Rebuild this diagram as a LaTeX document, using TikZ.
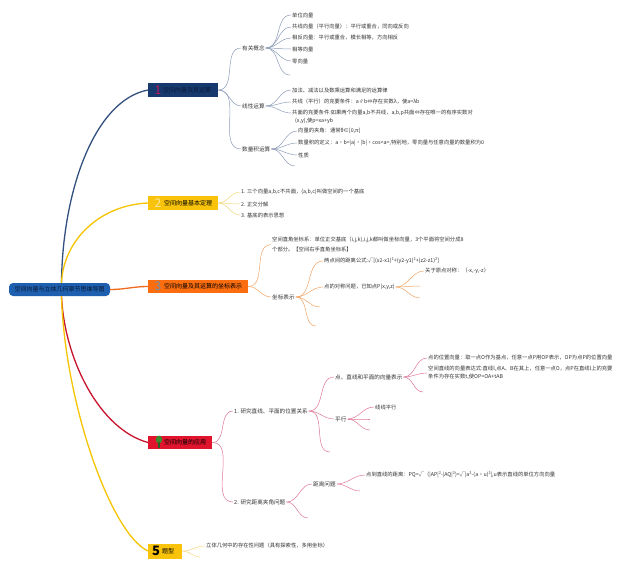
\documentclass[tikz,border=0pt]{standalone}
\usepackage{fontspec}
\setmainfont{Noto Sans CJK SC}
\definecolor{rootblue}{HTML}{1E5FAF}
\definecolor{roottext}{HTML}{0B1A33}
\definecolor{navy}{HTML}{173A6E}
\definecolor{navytext}{HTML}{0C1B3A}
\definecolor{navyline}{HTML}{34507E}
\definecolor{navysub}{HTML}{8D9CB8}
\definecolor{magnum}{HTML}{C2185B}
\definecolor{yel}{HTML}{F8C30A}
\definecolor{yelline}{HTML}{F6C400}
\definecolor{yelsub}{HTML}{F3D77A}
\definecolor{yelnum}{HTML}{FCE7A0}
\definecolor{org}{HTML}{FB6D0F}
\definecolor{orgline}{HTML}{F06A1E}
\definecolor{orgsub}{HTML}{F2A567}
\definecolor{orgnum}{HTML}{6F8FAE}
\definecolor{redb}{HTML}{E0142D}
\definecolor{redline}{HTML}{C8142E}
\definecolor{redsub}{HTML}{E07896}
\definecolor{treegreen}{HTML}{3C8A2E}
\definecolor{txt}{HTML}{333333}
\begin{document}
\begin{tikzpicture}[x=1pt,y=-1pt,
  leaf/.style={anchor=west,inner sep=1pt,text=txt,font=\fontsize{5.3}{8}\selectfont,align=left},
  mid/.style={leaf,font=\fontsize{5.6}{8}\selectfont},
  bbox/.style={anchor=west,minimum height=14pt,inner sep=0pt},
  btext/.style={anchor=west,inner sep=0pt,font=\fontsize{6}{6}\selectfont},
  num/.style={inner sep=0pt,font=\fontsize{12}{12}\selectfont},
  mainline/.style={line width=1.3pt},
  subnavy/.style={line width=0.5pt,draw=navysub},
  subyel/.style={line width=0.5pt,draw=yelsub},
  suborg/.style={line width=0.5pt,draw=orgsub},
  subred/.style={line width=0.5pt,draw=redsub}]
\useasboundingbox (0,0) rectangle (640,576);
\fill[white] (0,0) rectangle (640,576);

% root
\node[fill=rootblue,rounded corners=4pt,minimum width=101pt,minimum height=13pt,inner sep=0pt,
      font=\fontsize{6}{6}\selectfont,text=roottext] (root) at (59.5,289.5) {空间向量与立体几何章节思维导图};

% branch boxes
\node[bbox,fill=navy,minimum width=70pt] (b1) at (148,90) {};
\node[num,text=magnum] (b1n) at ([xshift=10]b1.west) {1};
\node[btext,text=navytext] (b1t) at ([xshift=15]b1.west) {空间向量及其运算};

\node[bbox,fill=yel,minimum width=70pt] (b2) at (148,203) {};
\node[num,text=yelnum] (b2n) at ([xshift=10]b2.west) {2};
\node[btext,text=black] (b2t) at ([xshift=16]b2.west) {空间向量基本定理};

\node[bbox,fill=org,minimum width=100pt,minimum height=13.5pt] (b3) at (148,286.5) {};
\node[num,text=orgnum] (b3n) at ([xshift=10]b3.west) {3};
\node[btext,text=black] (b3t) at ([xshift=16]b3.west) {空间向量及其运算的坐标表示};

\node[bbox,fill=redb,minimum width=64pt,minimum height=13.5pt] (b4) at (148,442.5) {};
\fill[treegreen] (159,439.5) ellipse (3.2 and 4);
\fill[treegreen!70!black] (158.4,442) rectangle (159.6,447.5);
\node[btext,text=black] (b4t) at ([xshift=16]b4.west) {空间向量的应用};

\node[bbox,fill=yel,minimum width=34pt,minimum height=15pt] (b5) at (148,551) {};
\node[num,text=black,font=\fontsize{13}{13}\selectfont\bfseries] (b5n) at ([xshift=8]b5.west) {5};
\node[btext,text=black] (b5t) at ([xshift=14]b5.west) {题型};

% main connectors
\draw[mainline,navyline] ([xshift=2]root.north) .. controls +(1,-93) and +(-53,10) .. (b1.west);
\draw[mainline,yelline] ([xshift=2]root.north) .. controls +(2,-43) and +(-48,2) .. (b2.west);
\draw[mainline,orgline] (root.east) to[out=0,in=180] (b3.west);
\draw[mainline,redline] ([xshift=2]root.south) .. controls +(3,64) and +(-48,-13) .. (b4.west);
\draw[mainline,yelline] ([xshift=2]root.south) .. controls +(3,104) and +(-38,-18) .. (b5.west);

% ---------- branch 1
\node[mid] (p11) at (241,48) {有关概念};
\node[mid] (p12) at (241,106) {线性运算};
\node[mid] (p13) at (241,149) {数量积运算};
\draw[subnavy] (b1.east) to[out=0,in=180] (p11.west);
\draw[subnavy] (b1.east) to[out=0,in=180] (p12.west);
\draw[subnavy] (b1.east) to[out=0,in=180] (p13.west);

\node[leaf] (q111) at (291,15) {单位向量};
\node[leaf] (q112) at (291,27) {共线向量（平行向量）：平行或重合，同向或反向};
\node[leaf] (q113) at (291,38) {相反向量：平行或重合，模长相等，方向相反};
\node[leaf] (q114) at (291,49) {相等向量};
\node[leaf] (q115) at (291,61) {零向量};
\coordinate (q116) at (290,75);
\draw[subnavy] (p11.east) to[out=0,in=180] (q111.west);
\draw[subnavy] (p11.east) to[out=0,in=180] (q112.west);
\draw[subnavy] (p11.east) to[out=0,in=180] (q113.west);
\draw[subnavy] (p11.east) to[out=0,in=180] (q114.west);
\draw[subnavy] (p11.east) to[out=0,in=180] (q115.west);
\draw[subnavy] (p11.east) to[out=0,in=180] (q116);

\node[leaf] (q121) at (291,90) {加法、减法以及数乘运算和满足的运算律};
\node[leaf] (q122) at (291,102) {共线（平行）的充要条件：a∥b⇔存在实数λ，使a=λb};
\node[leaf,anchor=north west] (q123) at (291,108.5) {共面的充要条件:如果两个向量a,b不共线，a,b,p共面⇔存在唯一的有序实数对\\\hspace{3pt}(x,y),使p=xa+yb};
\draw[subnavy] (p12.east) to[out=0,in=180] (q121.west);
\draw[subnavy] (p12.east) to[out=0,in=180] (q122.west);
\draw[subnavy] (p12.east) to[out=0,in=180] ([yshift=-4.5]q123.north west);

\node[leaf] (q131) at (297,131) {向量的夹角：通常θ∈[0,π]};
\node[leaf] (q132) at (297,143) {数量积的定义：a·b=|a|·|b|·cos<a>,特别地，零向量与任意向量的数量积为0};
\node[leaf] (q133) at (297,155) {性质};
\coordinate (q134) at (295,166);
\draw[subnavy] (p13.east) to[out=0,in=180] (q131.west);
\draw[subnavy] (p13.east) to[out=0,in=180] (q132.west);
\draw[subnavy] (p13.east) to[out=0,in=180] (q133.west);
\draw[subnavy] (p13.east) to[out=0,in=180] (q134);

% ---------- branch 2
\node[leaf] (q21) at (240,192) {1. 三个向量a,b,c不共面，\{a,b,c\}叫做空间的一个基底};
\node[leaf] (q22) at (240,204) {2. 正交分解};
\node[leaf] (q23) at (240,215) {3. 基底的表示思想};
\draw[subyel] (b2.east) to[out=0,in=180] (q21.west);
\draw[subyel] (b2.east) to[out=0,in=180] (q22.west);
\draw[subyel] (b2.east) to[out=0,in=180] (q23.west);

% ---------- branch 3
\node[leaf,anchor=north west,font=\fontsize{5.3}{10}\selectfont] (p31) at (271,236) {空间直角坐标系：单位正交基底（i,j,k),i,j,k都叫做坐标向量，3个平面将空间分成8\\个部分。【空间右手直角坐标系】};
\node[mid] (p32) at (271,297) {坐标表示};
\draw[suborg] (b3.east) to[out=0,in=180] (p31.west);
\draw[suborg] (b3.east) to[out=0,in=180] (p32.west);

\node[leaf] (q321) at (323,261) {两点间的距离公式:√[(x2-x1)²+(y2-y1)²+(z2-z1)²]};
\node[leaf] (q322) at (323,287) {点的对称问题，已知点P(x,y,z)};
\coordinate (q323) at (320,307);
\coordinate (q324) at (316,326);
\draw[suborg] (p32.east) to[out=0,in=180] (q321.west);
\draw[suborg] (p32.east) to[out=0,in=180] (q322.west);
\draw[suborg] (p32.east) to[out=0,in=180] (q323);
\draw[suborg] (p32.east) to[out=0,in=180] (q324);

\node[leaf] (r1) at (424,271) {关于原点对称：（-x,-y,-z）};
\coordinate (r2) at (420,286);
\coordinate (r3) at (420,298);
\draw[suborg] (q322.east) to[out=0,in=180] (r1.west);
\draw[suborg] (q322.east) to[out=0,in=180] (r2);
\draw[suborg] (q322.east) to[out=0,in=180] (r3);

% ---------- branch 4
\node[mid] (p41) at (233,411) {1. 研究直线、平面的位置关系};
\node[mid] (p42) at (233,502) {2. 研究距离夹角问题};
\draw[subred] (b4.east) to[out=0,in=180] (p41.west);
\draw[subred] (b4.east) to[out=0,in=180] (p42.west);

\node[mid] (p411) at (334,377) {点、直线和平面的向量表示};
\node[mid] (p412) at (334,419) {平行};
\coordinate (p413) at (330,452);
\draw[subred] (p41.east) to[out=0,in=180] (p411.west);
\draw[subred] (p41.east) to[out=0,in=180] (p412.west);
\draw[subred] (p41.east) to[out=0,in=180] (p413);

\node[leaf] (q4111) at (427,358) {点的位置向量：取一点O作为基点，任意一点P用OP表示，OP为点P的位置向量};
\node[leaf] (q4112) at (427,373) {空间直线的向量表达式:直线l,点A、B在其上，任意一点O，点P在直线l上的充要\\条件为存在实数t,使OP=OA+tAB};
\coordinate (q4113) at (423,392);
\draw[subred] (p411.east) to[out=0,in=180] (q4111.west);
\draw[subred] (p411.east) to[out=0,in=180] (q4112.west);
\draw[subred] (p411.east) to[out=0,in=180] (q4113);

\node[leaf] (q4121) at (374,407) {线线平行};
\coordinate (q4122) at (370,419);
\coordinate (q4123) at (370,430);
\draw[subred] (p412.east) to[out=0,in=180] (q4121.west);
\draw[subred] (p412.east) to[out=0,in=180] (q4122);
\draw[subred] (p412.east) to[out=0,in=180] (q4123);

\node[mid] (p421) at (312,484) {距离问题};
\coordinate (p422) at (308,518);
\draw[subred] (p42.east) to[out=0,in=180] (p421.west);
\draw[subred] (p42.east) to[out=0,in=180] (p422);

\node[leaf] (q4211) at (365,475) {点到直线的距离：PQ=√（|AP|²-|AQ|²)=√|a²-(a·u)²|,u表示直线的单位方向向量};
\coordinate (q4212) at (360,491);
\draw[subred] (p421.east) to[out=0,in=180] (q4211.west);
\draw[subred] (p421.east) to[out=0,in=180] (q4212);

% ---------- branch 5
\node[leaf] (q51) at (205,546) {立体几何中的存在性问题（具有探索性，多用坐标）};
\coordinate (q52) at (200,557);
\draw[subyel] (b5.east) to[out=0,in=180] (q51.west);
\draw[subyel] (b5.east) to[out=0,in=180] (q52);
\end{tikzpicture}
\end{document}
